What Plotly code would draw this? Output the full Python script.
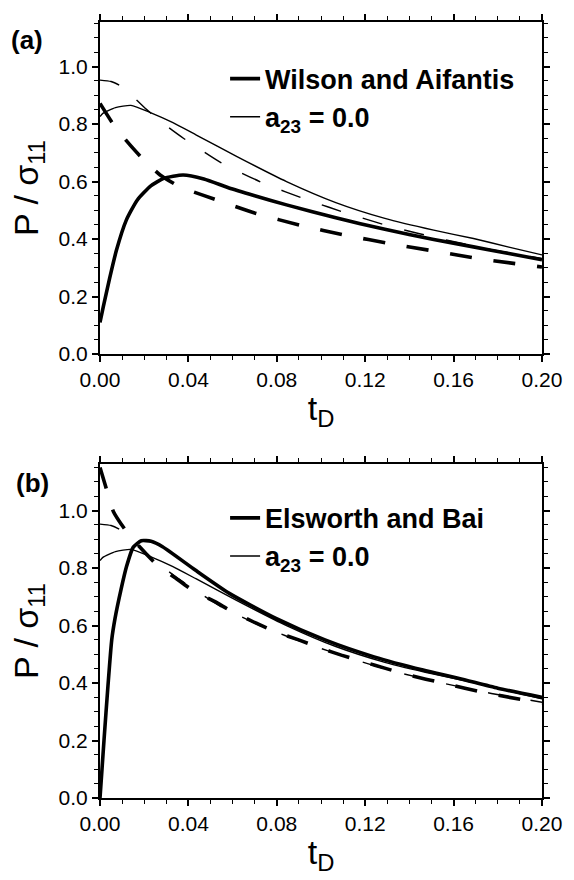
import plotly.graph_objects as go

# ---------------- Panel (a) data ----------------
# Wilson and Aifantis (thick solid)
t_wa = [0, 0.0015, 0.0044, 0.0074, 0.0119, 0.0169, 0.0230, 0.0288, 0.0376, 0.0470,
        0.0584, 0.0700, 0.0844, 0.1067, 0.1289, 0.1510, 0.1690, 0.1850, 0.2000]
p_wa = [0.11, 0.165, 0.265, 0.360, 0.466, 0.536, 0.585, 0.611, 0.623, 0.609,
        0.578, 0.551, 0.519, 0.474, 0.434, 0.399, 0.373, 0.350, 0.328]

# Wilson and Aifantis companion (thick dashed)
t_wa_d = [0, 0.0058, 0.0124, 0.0191, 0.0272, 0.0361, 0.0465, 0.0580, 0.0707, 0.0907,
          0.1114, 0.1316, 0.1500, 0.1730, 0.2000]
p_wa_d = [0.872, 0.802, 0.738, 0.681, 0.623, 0.582, 0.553, 0.522, 0.489, 0.448,
          0.413, 0.384, 0.360, 0.330, 0.303]

# a23 = 0.0 (thin solid) -- same in both panels
t_a23 = [0, 0.0013, 0.0070, 0.0140, 0.0228, 0.0330, 0.0436, 0.0622, 0.0844, 0.1067,
         0.1289, 0.1510, 0.1690, 0.1850, 0.2000]
p_a23 = [0.826, 0.837, 0.857, 0.865, 0.840, 0.805, 0.762, 0.686, 0.600, 0.527,
         0.472, 0.431, 0.402, 0.372, 0.345]

# a23 = 0.0 companion (thin dashed) -- same in both panels
t_a23_d = [0, 0.0050, 0.0095, 0.0150, 0.0209, 0.0290, 0.0379, 0.0547, 0.0741, 0.0933,
           0.1133, 0.1333, 0.1550, 0.1750, 0.2000]
p_a23_d = [0.953, 0.948, 0.932, 0.895, 0.852, 0.800, 0.750, 0.666, 0.594, 0.538,
           0.486, 0.440, 0.400, 0.367, 0.333]

# ---------------- Panel (b) data ----------------
# Elsworth and Bai (thick solid)
t_eb = [0, 0.0009, 0.0018, 0.0036, 0.0053, 0.0068, 0.0095, 0.0120, 0.0150, 0.0187,
        0.0231, 0.0283, 0.0431, 0.0585, 0.0796, 0.1018, 0.1240, 0.1462, 0.1625,
        0.1800, 0.2000]
p_eb = [0.0, 0.10, 0.20, 0.39, 0.550, 0.625, 0.725, 0.805, 0.872, 0.895,
        0.893, 0.874, 0.793, 0.712, 0.625, 0.550, 0.491, 0.445, 0.416,
        0.382, 0.350]

# Elsworth and Bai companion (thick dashed)
t_eb_d = [0, 0.0027, 0.0061, 0.0117, 0.0179, 0.0253, 0.0342, 0.0424, 0.0520, 0.0594,
          0.0707, 0.0796, 0.0899, 0.0996, 0.1092, 0.1196, 0.1292, 0.1396, 0.1550,
          0.1750, 0.2000]
p_eb_d = [1.150, 1.080, 0.996, 0.930, 0.874, 0.815, 0.765, 0.720, 0.683, 0.650,
          0.608, 0.578, 0.550, 0.522, 0.497, 0.473, 0.451, 0.428, 0.400,
          0.365, 0.330]

x_ticks = [0.00, 0.04, 0.08, 0.12, 0.16, 0.20]
y_ticks = [0.0, 0.2, 0.4, 0.6, 0.8, 1.0]

FONT = "Liberation Sans, Arial, Helvetica, sans-serif"

fig = go.Figure()


def add(x, y, width, dash, name, show, xa, ya, legend):
    fig.add_trace(go.Scatter(
        x=x, y=y, mode="lines", name=name, showlegend=show,
        xaxis=xa, yaxis=ya, legend=legend, hoverinfo="skip",
        line=dict(color="black", width=width, dash=dash,
                  shape="spline", smoothing=0.55)))


THICK = 3.6
THIN = 1.4
DASH_THICK = "22px,22px"
DASH_THIN = "20px,23px"

# panel (a)
add(t_wa, p_wa, THICK, "solid", "<b>Wilson and Aifantis</b>", True, "x", "y", "legend")
add(t_a23, p_a23, THIN, "solid", "<b>a<sub>23</sub> = 0.0</b>", True, "x", "y", "legend")
add(t_a23_d, p_a23_d, THIN, DASH_THIN, "a23 dashed", False, "x", "y", "legend")
add(t_wa_d, p_wa_d, THICK, DASH_THICK, "WA dashed", False, "x", "y", "legend")

# panel (b)
add(t_eb, p_eb, THICK, "solid", "<b>Elsworth and Bai</b>", True, "x2", "y2", "legend2")
add(t_a23, p_a23, THIN, "solid", "<b>a<sub>23</sub> = 0.0</b>", True, "x2", "y2", "legend2")
add(t_a23_d, p_a23_d, THIN, DASH_THIN, "a23 dashed", False, "x2", "y2", "legend2")
add(t_eb_d, p_eb_d, THICK, DASH_THICK, "EB dashed", False, "x2", "y2", "legend2")

common = dict(showline=True, linecolor="black", linewidth=2, mirror="allticks",
              ticks="outside", ticklen=6, tickwidth=1.5, tickcolor="black",
              showgrid=False, zeroline=False,
              tickfont=dict(size=21, family=FONT, color="black"))

xax = dict(common, range=[0, 0.2], tickvals=x_ticks, tickformat=".2f",
           minor=dict(ticks="outside", ticklen=4, tickwidth=1, tickcolor="black",
                      dtick=0.01, tick0=0, showgrid=False),
           title=dict(text="t<sub>D</sub>", font=dict(size=34, family=FONT, color="black"),
                      standoff=6))
yax = dict(common, tickvals=y_ticks, tickformat=".1f",
           minor=dict(ticks="outside", ticklen=4, tickwidth=1, tickcolor="black",
                      dtick=0.05, tick0=0, showgrid=False),
           title=dict(text="P / σ<sub>11</sub>", font=dict(size=34, family=FONT, color="black"),
                      standoff=10))

fig.update_layout(
    width=574, height=880,
    margin=dict(l=100, r=24, t=22, b=82),
    paper_bgcolor="white", plot_bgcolor="white",
    font=dict(family=FONT, color="black"),
    xaxis=dict(xax, anchor="y", domain=[0, 1]),
    yaxis=dict(yax, anchor="x", domain=[0.572, 1.0], range=[0, 1.155]),
    xaxis2=dict(xax, anchor="y2", domain=[0, 1]),
    yaxis2=dict(yax, anchor="x2", domain=[0, 0.4304], range=[0, 1.162]),
    legend=dict(x=0.283, y=0.958, xanchor="left", yanchor="top",
                bgcolor="rgba(0,0,0,0)", borderwidth=0,
                font=dict(size=27, family=FONT, color="black"),
                tracegroupgap=0),
    legend2=dict(x=0.283, y=0.392, xanchor="left", yanchor="top",
                 bgcolor="rgba(0,0,0,0)", borderwidth=0,
                 font=dict(size=27, family=FONT, color="black"),
                 tracegroupgap=0),
    annotations=[
        dict(text="<b>(a)</b>", xref="paper", yref="paper", x=-0.205, y=0.977,
             xanchor="left", yanchor="middle", showarrow=False,
             font=dict(size=26, family=FONT, color="black")),
        dict(text="<b>(b)</b>", xref="paper", yref="paper", x=-0.194, y=0.406,
             xanchor="left", yanchor="middle", showarrow=False,
             font=dict(size=26, family=FONT, color="black")),
    ],
)

fig.write_html("out.html")
